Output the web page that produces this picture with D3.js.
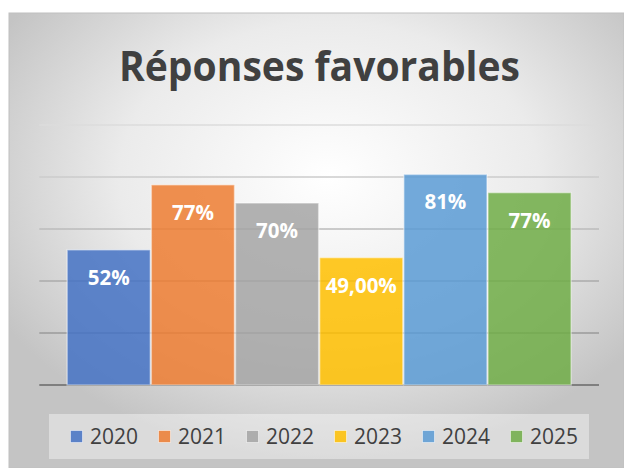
<!DOCTYPE html>
<html>
<head>
<meta charset="utf-8">
<script src="https://cdn.jsdelivr.net/npm/d3@7"></script>
<style>
  html, body { margin: 0; padding: 0; background: #fff; }
  svg { display: block; font-family: "Open Sans", sans-serif; }
</style>
</head>
<body>
<svg id="chart"></svg>
<script>
// data (the 2025 bar is drawn lower than its "77%" label)
const years = ["2020", "2021", "2022", "2023", "2024", "2025"];
const values = [0.52, 0.77, 0.70, 0.49, 0.81, 0.74];
const valueLabels = ["52%", "77%", "70%", "49,00%", "81%", "77%"];
const yTicks = [0, 0.2, 0.4, 0.6, 0.8, 1.0];
const colors = ["#4472C4", "#ED7D31", "#A5A5A5", "#FFC000", "#5B9BD5", "#70AD47"];

const W = 624, H = 468;
const svg = d3.select("#chart").attr("width", W).attr("height", H);
const defs = svg.append("defs");

// chart area background, radial grey gradient
const bg = defs.append("radialGradient").attr("id", "bg")
    .attr("cx", "52%").attr("cy", "36%").attr("r", "62%");
bg.append("stop").attr("offset", "0%").attr("stop-color", "#ffffff");
bg.append("stop").attr("offset", "55%").attr("stop-color", "#ebebeb");
bg.append("stop").attr("offset", "100%").attr("stop-color", "#c4c4c4");

svg.append("rect")
    .attr("x", 9).attr("y", 13)
    .attr("width", W - 9).attr("height", H - 13)
    .attr("fill", "url(#bg)")
    .attr("stroke", "#c0c0c0").attr("stroke-width", 1);

// scales
const x = d3.scaleBand().domain(years).range([39.3, 599]).paddingInner(0).paddingOuter(0.325);
const y = d3.scaleLinear().domain([0, 1]).range([385, 125]);

// gridlines get darker towards the bottom
const gg = defs.append("linearGradient").attr("id", "grid")
    .attr("gradientUnits", "userSpaceOnUse")
    .attr("x1", 0).attr("y1", y(1)).attr("x2", 0).attr("y2", y(0));
gg.append("stop").attr("offset", "0%").attr("stop-color", "#dcdcdc");
gg.append("stop").attr("offset", "100%").attr("stop-color", "#8a8a8a");

svg.append("g")
    .selectAll("line")
    .data(yTicks.slice(1))
    .join("line")
    .attr("x1", 39.3).attr("x2", 599)
    .attr("y1", d => y(d)).attr("y2", d => y(d))
    .attr("stroke", "url(#grid)")
    .attr("stroke-width", 1.3);

svg.append("line")
    .attr("x1", 39.3).attr("x2", 599)
    .attr("y1", y(0)).attr("y2", y(0))
    .attr("stroke", "#7f7f7f").attr("stroke-width", 1.8);

// bars
svg.append("g")
    .selectAll("rect")
    .data(values)
    .join("rect")
    .attr("x", (d, i) => x(years[i]) + 0.5)
    .attr("width", x.bandwidth() - 1)
    .attr("y", d => y(d))
    .attr("height", d => y(0) - y(d))
    .attr("fill", (d, i) => colors[i])
    .attr("fill-opacity", 0.85)
    .attr("stroke", "#ffffff").attr("stroke-opacity", 0.45).attr("stroke-width", 1.5);

// value labels inside the bars
svg.append("g")
    .selectAll("text")
    .data(values)
    .join("text")
    .attr("x", (d, i) => x(years[i]) + x.bandwidth() / 2)
    .attr("y", d => y(d) + 35)
    .attr("text-anchor", "middle")
    .attr("fill", "#ffffff")
    .attr("font-weight", 700)
    .attr("font-size", 20.5)
    .text((d, i) => valueLabels[i]);

// title
svg.append("text")
    .attr("x", 319.5).attr("y", 81)
    .attr("text-anchor", "middle")
    .attr("fill", "#404040")
    .attr("font-weight", 700)
    .attr("font-size", 42)
    .attr("textLength", 401)
    .attr("lengthAdjust", "spacingAndGlyphs")
    .text("Réponses favorables");

// legend
svg.append("rect")
    .attr("x", 49).attr("y", 414).attr("width", 540).attr("height", 45)
    .attr("fill", "#ffffff").attr("fill-opacity", 0.4);

const legend = svg.append("g")
    .selectAll("g")
    .data(years)
    .join("g")
    .attr("transform", (d, i) => `translate(${70 + i * 88},0)`);

legend.append("rect")
    .attr("x", 0.5).attr("y", 430.5).attr("width", 12).attr("height", 12)
    .attr("fill", (d, i) => colors[i]).attr("fill-opacity", 0.85)
    .attr("stroke", "#ffffff").attr("stroke-opacity", 0.5).attr("stroke-width", 1);

legend.append("text")
    .attr("x", 20).attr("y", 444)
    .attr("fill", "#404040")
    .attr("font-size", 21)
    .text(d => d);
</script>
</body>
</html>
